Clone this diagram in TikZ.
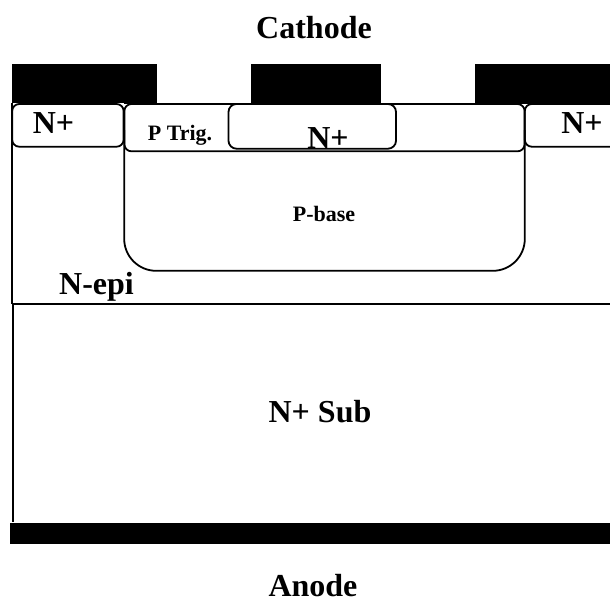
\documentclass[tikz,border=0pt]{standalone}
\usepackage{fontspec}
\setmainfont{Liberation Serif}
\tikzset{
  outline/.style={line width=1.8pt,draw=black},
  metal/.style={fill=black,draw=none},
  lbl/.style={inner sep=0pt,anchor=base,font=\fontsize{32}{32}\selectfont\bfseries},
  lblsmall/.style={inner sep=0pt,anchor=base,font=\fontsize{22}{22}\selectfont\bfseries}
}
\begin{document}
\begin{tikzpicture}[x=1pt,y=-1pt]
\useasboundingbox (0,0) rectangle (610,598);
% silicon outline
\draw[outline] (12.2,103) -- (12.2,304);
\draw[outline] (13.2,304) -- (13.2,522);
\draw[outline] (12,304) -- (610,304);
\draw[outline] (124,103.5) -- (610,103.5);
% P base
\draw[outline,rounded corners=32pt] (124.2,130) -- (124.2,270.8) -- (524.8,270.8) -- (524.8,130);
% N+ contact regions
\draw[outline,rounded corners=7pt] (12.2,104) rectangle (123.6,146.7);
\draw[outline,rounded corners=7pt] (640,104) rectangle (524.8,146.7);
% P trigger
\draw[outline,rounded corners=7pt] (124.4,104) rectangle (524.6,151.3);
% inner N+
\draw[outline,rounded corners=8pt] (228.5,104) rectangle (396,148.7);
% metal
\fill[metal] (11.5,64) rectangle (157,103);
\fill[metal] (251,64) rectangle (381,103);
\fill[metal] (475,64) rectangle (610,103);
\fill[metal] (10,522.5) rectangle (610,543.5);
% labels
\node[lbl] (cathode) at (314,38) {Cathode};
\node[lbl] (nleft) at (53.5,133) {N+};
\node[lbl] (nright) at (582,133) {N+};
\node[lbl] (nmid) at (328,148) {N+};
\node[lblsmall] (ptrig) at (180,140) {P Trig.};
\node[lblsmall] (pbase) at (324,221) {P-base};
\node[lbl] (nepi) at (96.5,294) {N-epi};
\node[lbl] (nsub) at (320,422) {N+ Sub};
\node[lbl] (anode) at (313,596.5) {Anode};
\end{tikzpicture}
\end{document}
